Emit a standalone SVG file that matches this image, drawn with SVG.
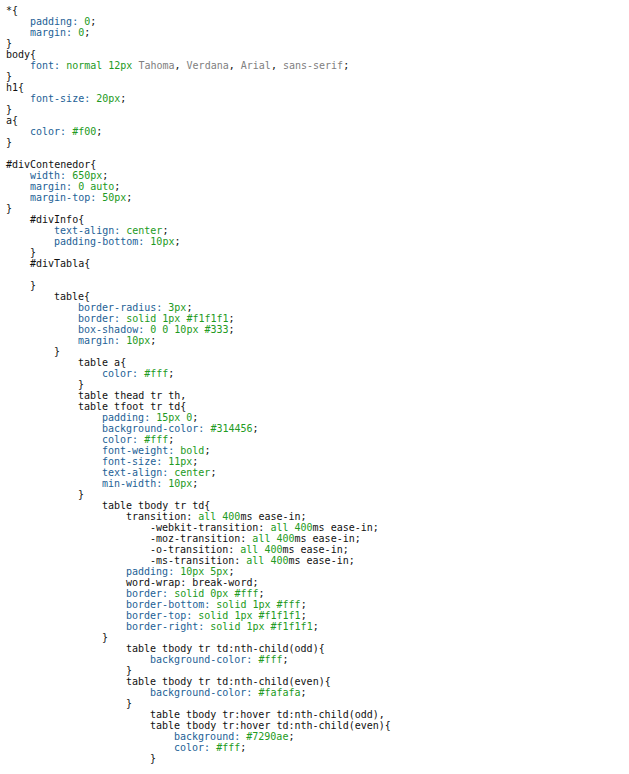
<svg xmlns="http://www.w3.org/2000/svg" width="629" height="774" viewBox="0 0 629 774" xml:space="preserve">
<style>
text{font-family:"DejaVu Sans Mono","Liberation Mono",monospace;font-size:10px;fill:#111}
.p{fill:#1d5f96}
.v{fill:#229a22}
.f{fill:#808080}
</style>
<rect width="629" height="774" fill="#fff"/>
<g id="code" transform="translate(0,-1)">
<text x="6" y="14.5">*{</text>
<text x="30" y="25.5"><tspan class="p">padding:</tspan> <tspan class="v">0</tspan>;</text>
<text x="30" y="36.5"><tspan class="p">margin:</tspan> <tspan class="v">0</tspan>;</text>
<text x="6" y="47.5">}</text>
<text x="6" y="58.5">body{</text>
<text x="30" y="69.5"><tspan class="p">font:</tspan> <tspan class="v">normal 12px</tspan> <tspan class="f">Tahoma</tspan>, <tspan class="f">Verdana</tspan>, <tspan class="f">Arial</tspan>, <tspan class="f">sans-serif</tspan>;</text>
<text x="6" y="80.5">}</text>
<text x="6" y="91.5">h1{</text>
<text x="30" y="102.5"><tspan class="p">font-size:</tspan> <tspan class="v">20px</tspan>;</text>
<text x="6" y="113.5">}</text>
<text x="6" y="124.5">a{</text>
<text x="30" y="135.5"><tspan class="p">color:</tspan> <tspan class="v">#f00</tspan>;</text>
<text x="6" y="146.5">}</text>
<text x="6" y="168.5">#divContenedor{</text>
<text x="30" y="179.5"><tspan class="p">width:</tspan> <tspan class="v">650px</tspan>;</text>
<text x="30" y="190.5"><tspan class="p">margin:</tspan> <tspan class="v">0 auto</tspan>;</text>
<text x="30" y="201.5"><tspan class="p">margin-top:</tspan> <tspan class="v">50px</tspan>;</text>
<text x="6" y="212.5">}</text>
<text x="30" y="223.5">#divInfo{</text>
<text x="54" y="234.5"><tspan class="p">text-align:</tspan> <tspan class="v">center</tspan>;</text>
<text x="54" y="245.5"><tspan class="p">padding-bottom:</tspan> <tspan class="v">10px</tspan>;</text>
<text x="30" y="256.5">}</text>
<text x="30" y="267.5">#divTabla{</text>
<text x="30" y="289.5">}</text>
<text x="54" y="300.5">table{</text>
<text x="78" y="311.5"><tspan class="p">border-radius:</tspan> <tspan class="v">3px</tspan>;</text>
<text x="78" y="322.5"><tspan class="p">border:</tspan> <tspan class="v">solid 1px #f1f1f1</tspan>;</text>
<text x="78" y="333.5"><tspan class="p">box-shadow:</tspan> <tspan class="v">0 0 10px #333</tspan>;</text>
<text x="78" y="344.5"><tspan class="p">margin:</tspan> <tspan class="v">10px</tspan>;</text>
<text x="54" y="355.5">}</text>
<text x="78" y="366.5">table a{</text>
<text x="102" y="377.5"><tspan class="p">color:</tspan> <tspan class="v">#fff</tspan>;</text>
<text x="78" y="388.5">}</text>
<text x="78" y="399.5">table thead tr th,</text>
<text x="78" y="410.5">table tfoot tr td{</text>
<text x="102" y="421.5"><tspan class="p">padding:</tspan> <tspan class="v">15px 0</tspan>;</text>
<text x="102" y="432.5"><tspan class="p">background-color:</tspan> <tspan class="v">#314456</tspan>;</text>
<text x="102" y="443.5"><tspan class="p">color:</tspan> <tspan class="v">#fff</tspan>;</text>
<text x="102" y="454.5"><tspan class="p">font-weight:</tspan> <tspan class="v">bold</tspan>;</text>
<text x="102" y="465.5"><tspan class="p">font-size:</tspan> <tspan class="v">11px</tspan>;</text>
<text x="102" y="476.5"><tspan class="p">text-align:</tspan> <tspan class="v">center</tspan>;</text>
<text x="102" y="487.5"><tspan class="p">min-width:</tspan> <tspan class="v">10px</tspan>;</text>
<text x="78" y="498.5">}</text>
<text x="102" y="509.5">table tbody tr td{</text>
<text x="126" y="520.5">transition: <tspan class="v">all 400</tspan>ms ease-in;</text>
<text x="150" y="531.5">-webkit-transition: <tspan class="v">all 400</tspan>ms ease-in;</text>
<text x="150" y="542.5">-moz-transition: <tspan class="v">all 400</tspan>ms ease-in;</text>
<text x="150" y="553.5">-o-transition: <tspan class="v">all 400</tspan>ms ease-in;</text>
<text x="150" y="564.5">-ms-transition: <tspan class="v">all 400</tspan>ms ease-in;</text>
<text x="126" y="575.5"><tspan class="p">padding:</tspan> <tspan class="v">10px 5px</tspan>;</text>
<text x="126" y="586.5">word-wrap: break-word;</text>
<text x="126" y="597.5"><tspan class="p">border:</tspan> <tspan class="v">solid 0px #fff</tspan>;</text>
<text x="126" y="608.5"><tspan class="p">border-bottom:</tspan> <tspan class="v">solid 1px #fff</tspan>;</text>
<text x="126" y="619.5"><tspan class="p">border-top:</tspan> <tspan class="v">solid 1px #f1f1f1</tspan>;</text>
<text x="126" y="630.5"><tspan class="p">border-right:</tspan> <tspan class="v">solid 1px #f1f1f1</tspan>;</text>
<text x="102" y="641.5">}</text>
<text x="126" y="652.5">table tbody tr td:nth-child(odd){</text>
<text x="150" y="663.5"><tspan class="p">background-color:</tspan> <tspan class="v">#fff</tspan>;</text>
<text x="126" y="674.5">}</text>
<text x="126" y="685.5">table tbody tr td:nth-child(even){</text>
<text x="150" y="696.5"><tspan class="p">background-color:</tspan> <tspan class="v">#fafafa</tspan>;</text>
<text x="126" y="707.5">}</text>
<text x="150" y="718.5">table tbody tr:hover td:nth-child(odd),</text>
<text x="150" y="729.5">table tbody tr:hover td:nth-child(even){</text>
<text x="174" y="740.5"><tspan class="p">background:</tspan> <tspan class="v">#7290ae</tspan>;</text>
<text x="174" y="751.5"><tspan class="p">color:</tspan> <tspan class="v">#fff</tspan>;</text>
<text x="150" y="762.5">}</text>
</g>
</svg>
